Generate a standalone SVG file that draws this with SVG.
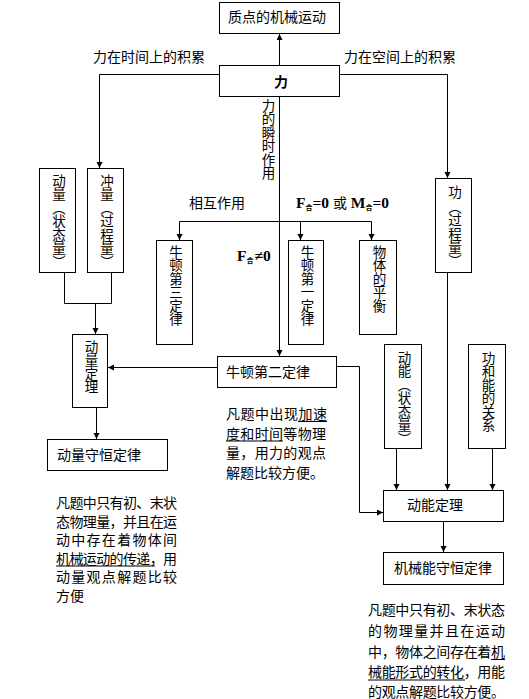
<svg xmlns="http://www.w3.org/2000/svg" width="529" height="699" viewBox="0 0 529 699">
<style>
.box{fill:#fff;stroke:#000;stroke-width:1}
.t{font-family:'Liberation Sans','Noto Sans CJK SC',sans-serif;font-size:14px;fill:#000}
.v{font-family:'Liberation Sans','Noto Sans CJK SC',sans-serif;font-size:13.5px;fill:#000;writing-mode:vertical-rl}
.c{fill:none;stroke:#000;stroke-width:1}
.u{stroke:#000;stroke-width:1}
.f{font-family:'Liberation Serif','Noto Sans CJK SC',serif;font-weight:bold;font-size:15.5px;fill:#000}
</style>
<defs>
<marker id="ar" markerUnits="userSpaceOnUse" markerWidth="7" markerHeight="7" refX="6" refY="3" orient="auto">
<path d="M0,0 L6,3 L0,6 z" fill="#000"/>
</marker>
</defs>
<rect width="529" height="699" fill="#fff"/>
<g id="connectors">
<path class="c" d="M279.5,65 V34" marker-end="url(#ar)"/>
<path class="c" d="M219,74.5 H99.5 V168" marker-end="url(#ar)"/>
<path class="c" d="M340,74.5 H447.5 V178" marker-end="url(#ar)"/>
<path class="c" d="M279.5,97 V356" marker-end="url(#ar)"/>
<path class="c" d="M179.5,221.5 H371.5"/>
<path class="c" d="M179.5,221.5 V240" marker-end="url(#ar)"/>
<path class="c" d="M300.5,221.5 V240" marker-end="url(#ar)"/>
<path class="c" d="M371.5,221.5 V240" marker-end="url(#ar)"/>
<path class="c" d="M64.5,273 V303.5 H111.5 V273"/>
<path class="c" d="M95.5,303.5 V334" marker-end="url(#ar)"/>
<path class="c" d="M217,367.5 H108" marker-end="url(#ar)"/>
<path class="c" d="M96.5,408 V439" marker-end="url(#ar)"/>
<path class="c" d="M337,366.5 H359.5 V512.5 H383" marker-end="url(#ar)"/>
<path class="c" d="M447.5,273 V490" marker-end="url(#ar)"/>
<path class="c" d="M396.5,449 V490" marker-end="url(#ar)"/>
<path class="c" d="M492.5,449 V490" marker-end="url(#ar)"/>
<path class="c" d="M443.5,522 V552" marker-end="url(#ar)"/>
<text class="t" x="93" y="62" font-size="13.6">力在时间上的积累</text>
<text class="t" x="344" y="62" font-size="13.6">力在空间上的积累</text>
<text class="v" x="267" y="99" font-size="14">力的瞬时作用</text>
<text class="t" x="189" y="208" font-size="13.5">相互作用</text>
<text class="f" x="296" y="208">F<tspan font-size="7" dy="2">合</tspan><tspan dy="-2">=0</tspan><tspan font-family="'Liberation Sans','Noto Sans CJK SC',sans-serif" font-weight="normal" font-size="14"> 或 </tspan>M<tspan font-size="7" dy="2">合</tspan><tspan dy="-2">=0</tspan></text>
<text class="f" x="237" y="261">F<tspan font-size="7" dy="2">合</tspan><tspan dy="-2" dx="1">≠0</tspan></text>
</g>
<g id="n_top"><rect class="box" x="219.5" y="2.5" width="120" height="31"/><text class="t" x="277" y="22" text-anchor="middle">质点的机械运动</text></g>
<g id="n_li"><rect class="box" x="219.5" y="65.5" width="120" height="31"/><text class="t" x="281" y="87" text-anchor="middle" font-weight="bold" font-size="16">力</text></g>
<g id="n_dongliang"><rect class="box" x="39.5" y="168.5" width="36" height="104"/><text class="v" x="57.5" y="174" font-size="13">动量（状态量）</text></g>
<g id="n_chongliang"><rect class="box" x="87.5" y="168.5" width="36" height="104"/><text class="v" x="105.5" y="174" font-size="13">冲量（过程量）</text></g>
<g id="n_gong"><rect class="box" x="435.5" y="178.5" width="36" height="94"/><text class="v" x="453.5" y="185" font-size="12.5">功</text><text class="v" x="453.5" y="200" font-size="12">（过程量）</text></g>
<g id="n_niu3"><rect class="box" x="156.5" y="240.5" width="36" height="104"/><text class="v" x="174.5" y="245" font-size="14">牛顿第三定律</text></g>
<g id="n_niu1"><rect class="box" x="288.5" y="240.5" width="35" height="104"/><text class="v" x="306" y="245" font-size="14">牛顿第一定律</text></g>
<g id="n_pingheng"><rect class="box" x="359.5" y="240.5" width="37" height="94"/><text class="v" x="378" y="245" font-size="14">物体的平衡</text></g>
<g id="n_niu2"><rect class="box" x="217.5" y="356.5" width="119" height="31"/><text class="t" x="226" y="377">牛顿第二定律</text></g>
<g id="n_dlthm"><rect class="box" x="72.5" y="334.5" width="35" height="73"/><text class="v" x="90" y="340" font-size="13">动量定理</text></g>
<g id="n_dlsh"><rect class="box" x="47.5" y="439.5" width="120" height="31"/><text class="t" x="57" y="460">动量守恒定律</text></g>
<g id="n_dongneng"><rect class="box" x="384.5" y="344.5" width="37" height="104"/><text class="v" x="403" y="351" font-size="12.7">动能（状态量）</text></g>
<g id="n_gongneng"><rect class="box" x="468.5" y="344.5" width="37" height="104"/><text class="v" x="487" y="351" font-size="13.5">功和能的关系</text></g>
<g id="n_dnthm"><rect class="box" x="383.5" y="490.5" width="120" height="31"/><text class="t" x="407" y="510">动能定理</text></g>
<g id="n_jxsh"><rect class="box" x="383.5" y="552.5" width="120" height="32"/><text class="t" x="394" y="573">机械能守恒定律</text></g>
<g id="note_mid">
<text class="t" x="226" y="419" textLength="101" lengthAdjust="spacing">凡题中出现加速</text>
<text class="t" x="226" y="438.5" textLength="100" lengthAdjust="spacing">度和时间等物理</text>
<text class="t" x="226" y="458" textLength="100" lengthAdjust="spacing">量，用力的观点</text>
<text class="t" x="226" y="477.5">解题比较方便。</text>
<line class="u" x1="298" y1="421.5" x2="327" y2="421.5"/>
<line class="u" x1="226" y1="441" x2="283" y2="441"/>
</g>
<g id="note_left">
<text class="t" x="56" y="508" font-size="13.5" textLength="121" lengthAdjust="spacing">凡题中只有初、末状</text>
<text class="t" x="56" y="526.5" font-size="13.5" textLength="121" lengthAdjust="spacing">态物理量，并且在运</text>
<text class="t" x="56" y="545" font-size="13.5" textLength="121" lengthAdjust="spacing">动中存在着物体间</text>
<text class="t" x="56" y="563.5" font-size="13.5" textLength="121" lengthAdjust="spacing">机械运动的传递，用</text>
<text class="t" x="56" y="582" font-size="13.5" textLength="121" lengthAdjust="spacing">动量观点解题比较</text>
<text class="t" x="56" y="600.5" font-size="13.5">方便</text>
<line class="u" x1="56" y1="566" x2="155" y2="566"/>
</g>
<g id="note_right">
<text class="t" x="368" y="615" font-size="13.5" textLength="137" lengthAdjust="spacing">凡题中只有初、末状态</text>
<text class="t" x="368" y="636" font-size="13.5" textLength="137" lengthAdjust="spacing">的物理量并且在运动</text>
<text class="t" x="368" y="656.5" font-size="13.5" textLength="137" lengthAdjust="spacing">中，物体之间存在着机</text>
<text class="t" x="368" y="677" font-size="13.5" textLength="137" lengthAdjust="spacing">械能形式的转化，用能</text>
<text class="t" x="368" y="697" font-size="13.5" textLength="137" lengthAdjust="spacing">的观点解题比较方便。</text>
<line class="u" x1="491" y1="659.5" x2="505" y2="659.5"/>
<line class="u" x1="368" y1="680" x2="465" y2="680"/>
</g>
</svg>
